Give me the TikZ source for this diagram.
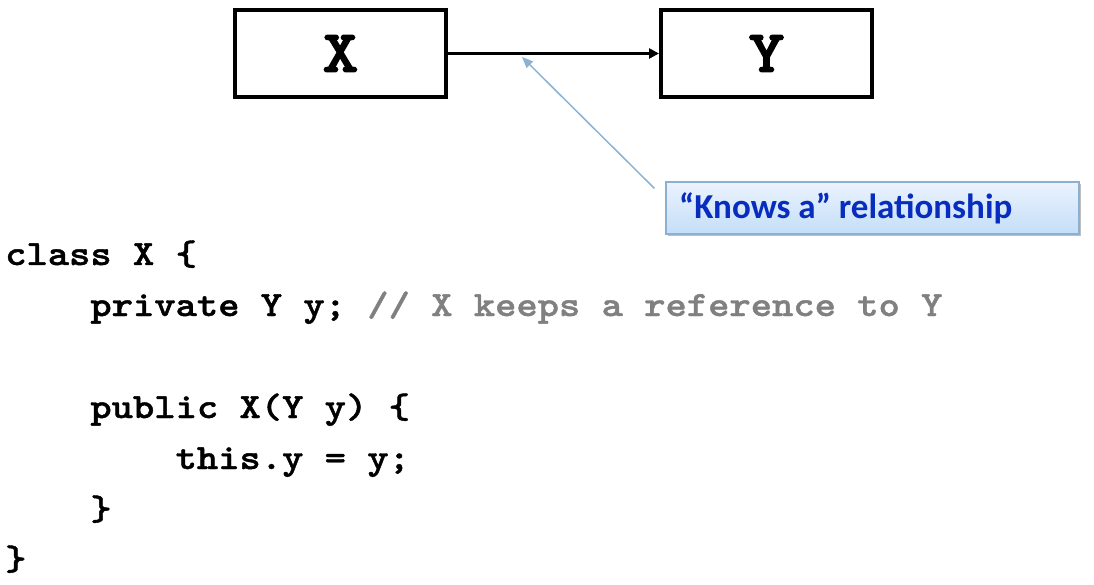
\documentclass[tikz,border=0pt]{standalone}
\usepackage{fontspec}
\newfontfamily\codefont{lmmonolt10-bold.otf}[FakeStretch=1.143,FakeBold=1.2]
\newfontfamily\boxfont{lmmonolt10-bold.otf}[FakeStretch=1.143,FakeBold=2]
\newfontfamily\calfont{Carlito}
\usetikzlibrary{arrows.meta,shadows}
\definecolor{codegray}{RGB}{128,128,128}
\definecolor{callblue}{RGB}{8,44,190}
\definecolor{callborder}{RGB}{140,176,210}
\definecolor{calltop}{RGB}{235,243,253}
\definecolor{callbot}{RGB}{196,222,248}
\definecolor{pointerblue}{RGB}{140,178,212}
\begin{document}
\begin{tikzpicture}[x=1pt,y=-1pt,
  classbox/.style={draw=black,line width=4pt,minimum width=211pt,minimum height=87pt,inner sep=0pt,
    font=\fontsize{60}{60}\selectfont\boxfont},
  codeline/.style={anchor=base west,inner sep=0pt,font=\fontsize{35.5}{40}\selectfont\codefont},
  callout/.style={draw=callborder,line width=1.2pt,top color=calltop,bottom color=callbot,
    minimum width=413pt,minimum height=52pt,inner sep=0pt,
    drop shadow={shadow xshift=2pt,shadow yshift=-2pt,fill=black,opacity=0.25}},
  calltext/.style={anchor=west,inner sep=0pt,text=callblue,font=\fontsize{35}{40}\selectfont\calfont\bfseries}]
\useasboundingbox (0,0) rectangle (1094,585);
\node[classbox] (X) at (340.5,53.5) {X};
\node[classbox] (Y) at (766.5,53.5) {Y};
\draw[line width=2.5pt,-{Triangle[length=10pt,width=10pt]}] (X.east) -- (Y.west);
\node[callout] (C) at (872.5,208) {};
\node[calltext] (CT) at (679,208) {“Knows a” relationship};
\coordinate (tip) at (522,57);
\coordinate (cstart) at ([shift={(-11,7)}]C.north west);
\draw[pointerblue,line width=1.5pt,-{Triangle[length=11pt,width=9pt]}] (cstart) -- (tip);
\node[codeline] (L1) at (5,265) {class X \{};
\node[codeline] (L2) at (90.2,316) {private Y y; \textcolor{codegray}{// X keeps a reference to Y}};
\node[codeline] (L3) at (90.2,418) {public X(Y y) \{};
\node[codeline] (L4) at (175.4,469) {this.y = y;};
\node[codeline] (L5) at (90.2,520) {\}};
\node[codeline] (L6) at (5,570) {\}};
\end{tikzpicture}
\end{document}
